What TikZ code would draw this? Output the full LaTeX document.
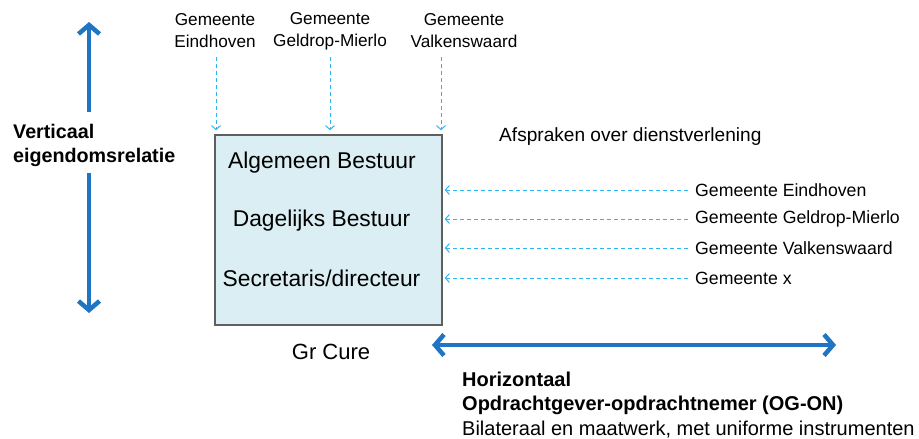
\documentclass[tikz,border=0pt]{standalone}
\usepackage{fontspec}
\setmainfont{Liberation Sans}
\usetikzlibrary{arrows.meta}
\definecolor{thickblue}{HTML}{1F74C4}
\definecolor{dashblue}{HTML}{2EB4F0}
\definecolor{boxfill}{HTML}{DAEEF3}
\definecolor{boxline}{HTML}{5F5F5F}
\tikzset{
  bigarrow/.style={draw=thickblue, line width=4.5pt,
    -{Straight Barb[length=9pt, width=21pt, line width=4.5pt]}},
  bigdouble/.style={draw=thickblue, line width=4.5pt,
    {Straight Barb[length=9pt, width=21pt, line width=4.5pt]}-{Straight Barb[length=9pt, width=21pt, line width=4.5pt]}},
  dasharrow/.style={draw=dashblue, line width=1pt, dash pattern=on 4pt off 3pt,
    -{Straight Barb[length=4pt, width=9pt, line width=1pt]}},
  toplabel/.style={inner sep=0pt, align=center, font=\fontsize{17.2}{22}\selectfont},
  rightlabel/.style={inner sep=0pt, anchor=west, font=\fontsize{17.7}{21}\selectfont},
  boxtext/.style={inner sep=0pt, font=\fontsize{22.8}{26}\selectfont},
  orgbox/.style={draw=boxline, line width=1.5pt, fill=boxfill, minimum width=227pt, minimum height=190pt, inner sep=0pt}
}
\begin{document}
\begin{tikzpicture}[x=1pt,y=-1pt]
\useasboundingbox[fill=white] (0,0) rectangle (919,439);

% vertical arrow
\coordinate (vtop) at (89,22);
\coordinate (vgapt) at (89,112);
\coordinate (vgapb) at (89,173);
\coordinate (vbot) at (89,313);
\draw[bigarrow] (vgapt) -- (vtop);
\draw[bigarrow] (vgapb) -- (vbot);
\node[inner sep=0pt, anchor=west, align=left, font=\bfseries\fontsize{19.7}{24}\selectfont] (vlabel) at (13,145) {Verticaal\\eigendomsrelatie};

% box
\node[orgbox] (box) at (328.5,230) {};
\node[boxtext] (ab) at (322,163) {Algemeen Bestuur};
\node[boxtext] (db) at (321.5,221) {Dagelijks Bestuur};
\node[boxtext] (sd) at (321.5,278) {Secretaris/directeur};
\node[inner sep=0pt, font=\fontsize{22}{26}\selectfont] (gc) at (331,352) {Gr Cure};

% top labels
\node[toplabel] (t1) at (215,31) {Gemeente\\Eindhoven};
\node[toplabel] (t2) at (330,31) {Gemeente\\Geldrop-Mierlo};
\node[toplabel] (t3) at (464,31) {Gemeente\\Valkenswaard};
\coordinate (c1) at (216,57);
\coordinate (c2) at (330,57);
\coordinate (c3) at (441,57);
\draw[dasharrow, shorten >=4pt] (c1) -- (c1 |- box.north);
\draw[dasharrow, shorten >=4pt] (c2) -- (c2 |- box.north);
\draw[dasharrow, shorten >=4pt] (c3) -- (c3 |- box.north);

% right side
\node[inner sep=0pt, anchor=west, font=\fontsize{19.1}{22}\selectfont] (afs) at (499,137) {Afspraken over dienstverlening};
\node[rightlabel] (r1) at (695,190) {Gemeente Eindhoven};
\node[rightlabel] (r2) at (695,219) {Gemeente Geldrop-Mierlo};
\node[rightlabel] (r3) at (695,248) {Gemeente Valkenswaard};
\node[rightlabel] (r4) at (695,278) {Gemeente x};
\draw[dasharrow, shorten >=2pt] ([xshift=-7pt]r1.west) -- (r1.west -| box.east);
\draw[dasharrow, shorten >=2pt] ([xshift=-7pt]r2.west) -- (r2.west -| box.east);
\draw[dasharrow, shorten >=2pt] ([xshift=-7pt]r3.west) -- (r3.west -| box.east);
\draw[dasharrow, shorten >=2pt] ([xshift=-7pt]r4.west) -- (r4.west -| box.east);

% horizontal arrow
\coordinate (hl) at (432,345);
\coordinate (hr) at (836,345);
\draw[bigdouble] (hl) -- (hr);

% bottom text
\node[inner sep=0pt, anchor=west, align=left, font=\fontsize{20}{24.5}\selectfont] (btext) at (462,405)
  {\textbf{Horizontaal}\\\textbf{Opdrachtgever-opdrachtnemer (OG-ON)}\\Bilateraal en maatwerk, met uniforme instrumenten};
\end{tikzpicture}
\end{document}
